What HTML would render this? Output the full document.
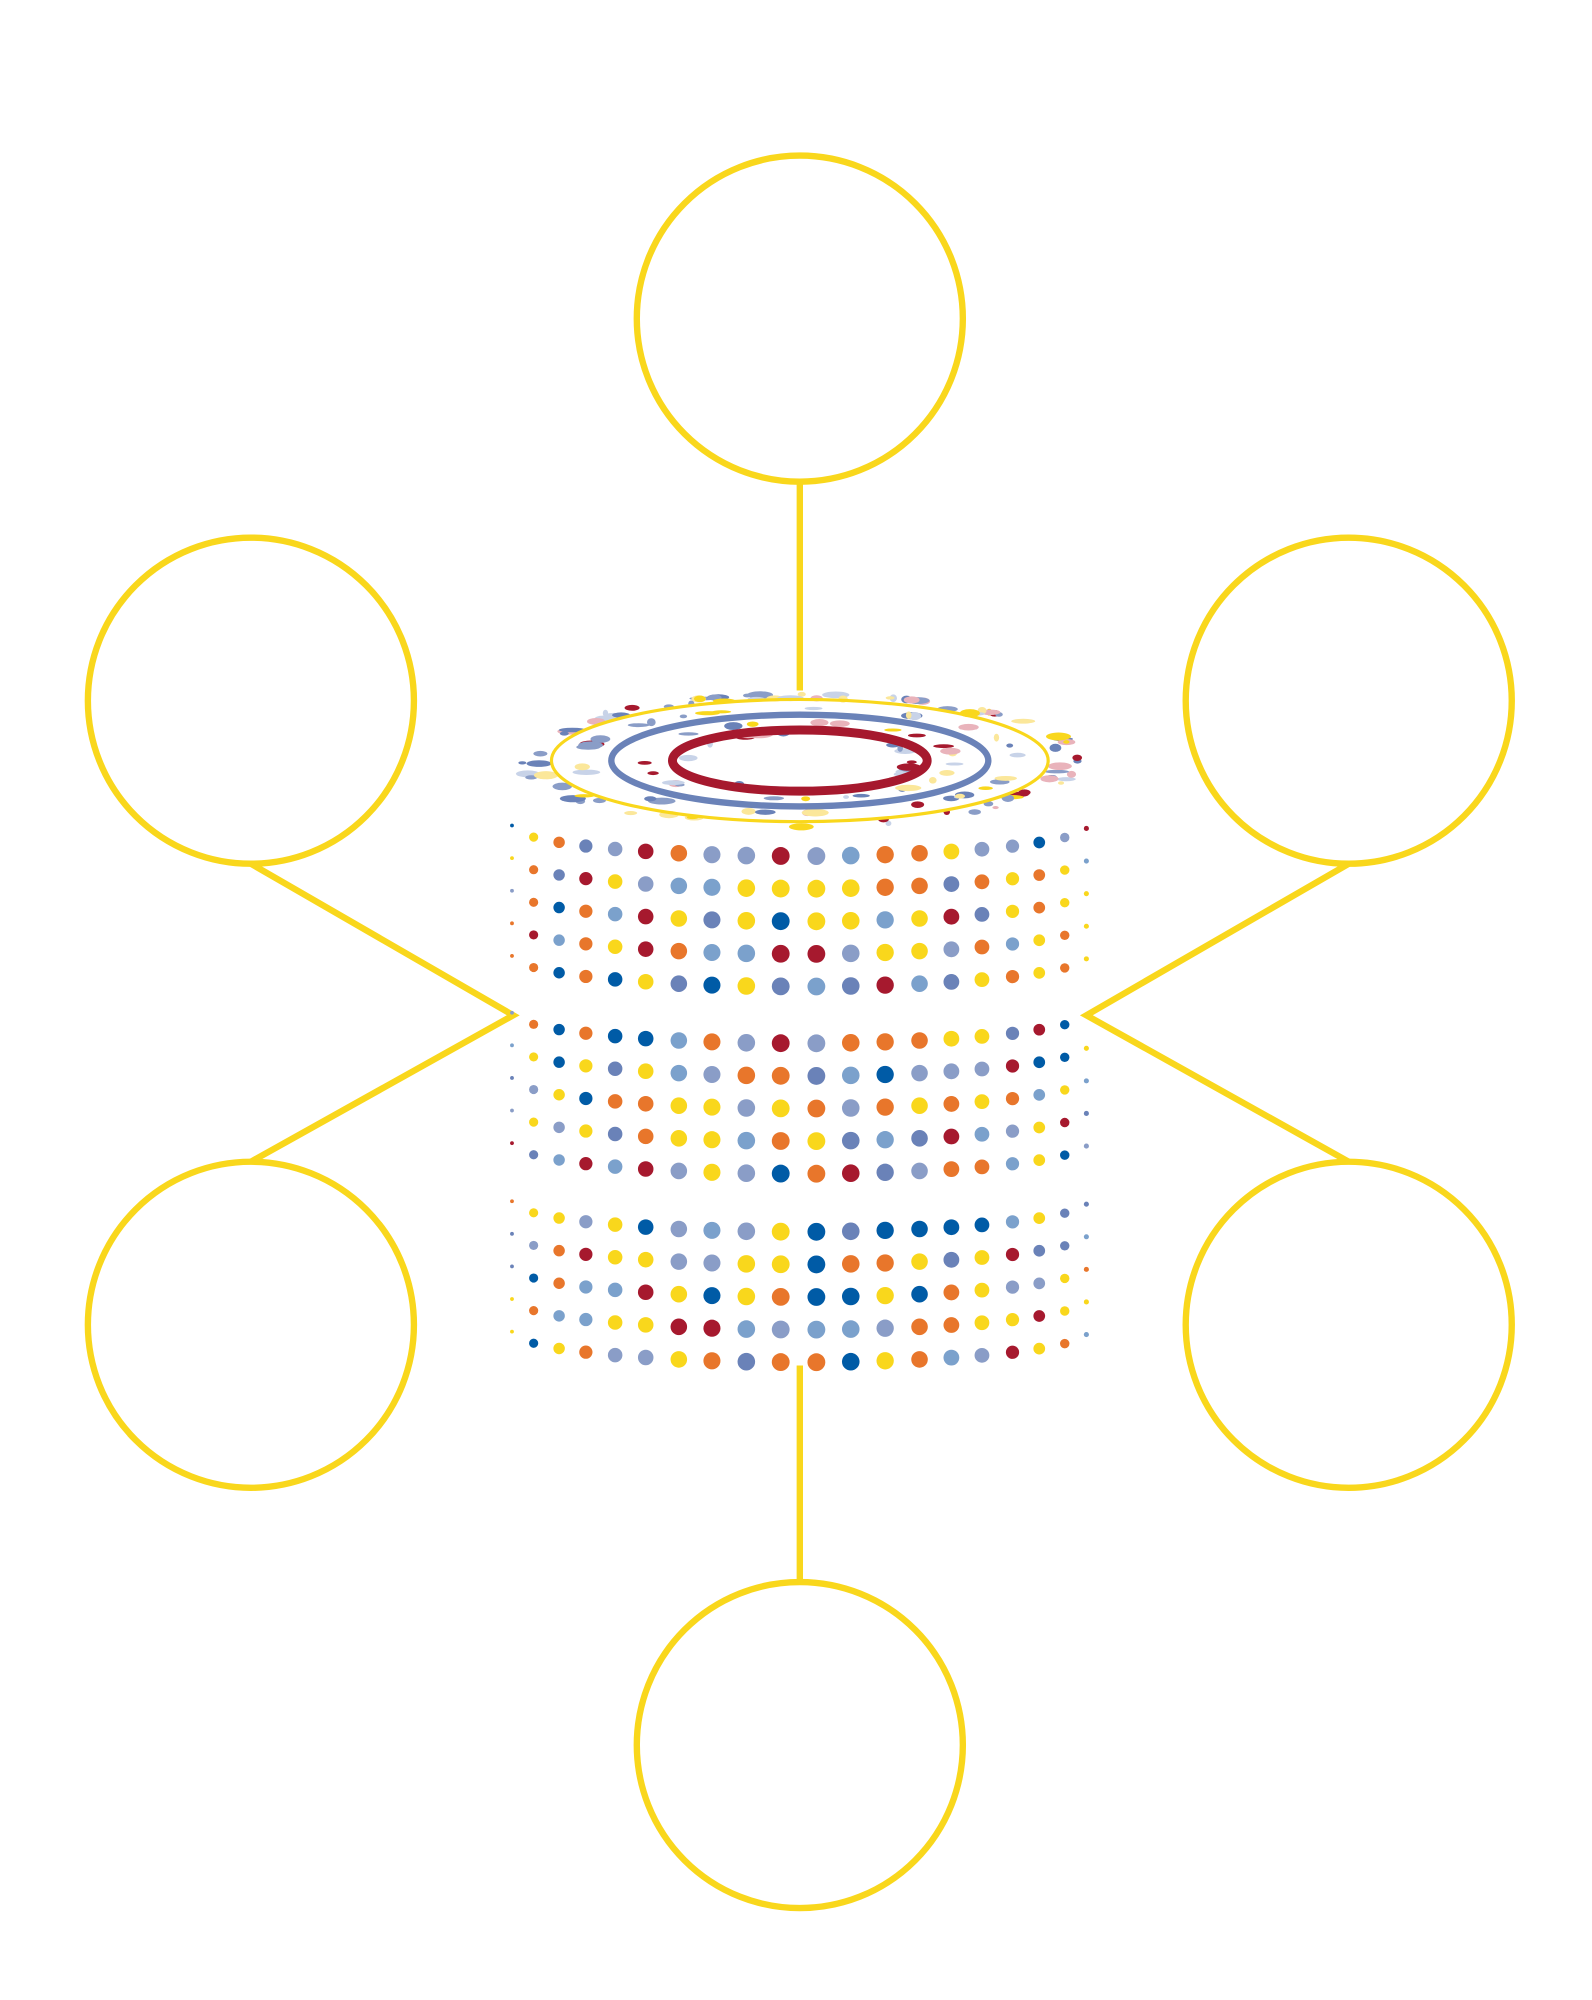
<!DOCTYPE html>
<html><head><meta charset="utf-8"><style>
html,body{margin:0;padding:0;background:#fff;width:1592px;height:2000px;overflow:hidden}
svg{display:block}
</style></head><body>
<svg id="s" width="1592" height="2000" viewBox="0 0 1250 1570" xmlns="http://www.w3.org/2000/svg">
<g fill="none" stroke="#f9d71c" stroke-width="5">
<line x1="628" y1="378" x2="628" y2="542"/>
<polyline points="197,678 403,797 197,912"/>
<polyline points="1059,678 853,797 1059,912"/>
<line x1="628" y1="1072" x2="628" y2="1243"/>
<circle cx="628" cy="250" r="128"/>
<circle cx="197" cy="550" r="128"/>
<circle cx="1059" cy="550" r="128"/>
<circle cx="197" cy="1040" r="128"/>
<circle cx="1059" cy="1040" r="128"/>
<circle cx="628" cy="1370" r="128"/>
</g>
<g id="dots"></g>
<g id="top"></g>
</svg>
<script>
var seed=7;function rnd(){seed=(seed*16807)%2147483647;return (seed-1)/2147483646;}
var pal=["#005ba6","#6a82b8","#e8762b","#f9d71c","#a6192e","#7ba1cc","#8a9dc7","#e8762b","#f9d71c"];
var NS="http://www.w3.org/2000/svg";
var d=document.getElementById("dots"),t=document.getElementById("top");
function el(p,tag,a){var e=document.createElementNS(NS,tag);for(var k in a)e.setAttribute(k,a[k]);p.appendChild(e);return e;}
var xs=[402,419,439,460,483,507,533,559,586,613,641,668,695,722,747,771,795,816,836,853];
var bands=[648,795,943];
for(var b=0;b<3;b++)for(var r=0;r<5;r++){
 var base=bands[b]+r*25.6;
 for(var k=0;k<20;k++){
  var x=xs[k];var s=(x-628)/226;if(s>1)s=1;if(s<-1)s=-1;
  var c=Math.sqrt(1-s*s);
  var y=base+24*c;
  var rad=1.5+5.5*c;
  el(d,"circle",{cx:x,cy:y.toFixed(1),r:rad.toFixed(1),fill:pal[Math.floor(rnd()*pal.length)]});
 }
}
var tp=["#6a82b8","#8a9dc7","#f9d71c","#a6192e","#c8d3e8","#fbe79a","#e9b3bb","#8a9dc7"];
[[218,52],[205,49],[172,41],[122,30],[88,22]].forEach(function(rr){
 var n=Math.floor(rr[0]/5);
 for(var i=0;i<n;i++){var a=rnd()*Math.PI*2;var w=2+rnd()*9;
  el(t,"ellipse",{cx:(628+rr[0]*Math.cos(a)).toFixed(1),cy:(597+rr[1]*Math.sin(a)).toFixed(1),rx:w.toFixed(1),ry:(1.2+rnd()*2).toFixed(1),fill:tp[Math.floor(rnd()*tp.length)]});}
});
el(t,"ellipse",{cx:628,cy:597,rx:195,ry:48,fill:"none",stroke:"#f9d71c","stroke-width":2.5});
el(t,"ellipse",{cx:628,cy:597,rx:148,ry:36,fill:"none",stroke:"#6a82b8","stroke-width":5});
el(t,"ellipse",{cx:628,cy:597,rx:100,ry:24,fill:"none",stroke:"#a6192e","stroke-width":7});
</script>
</body></html>
